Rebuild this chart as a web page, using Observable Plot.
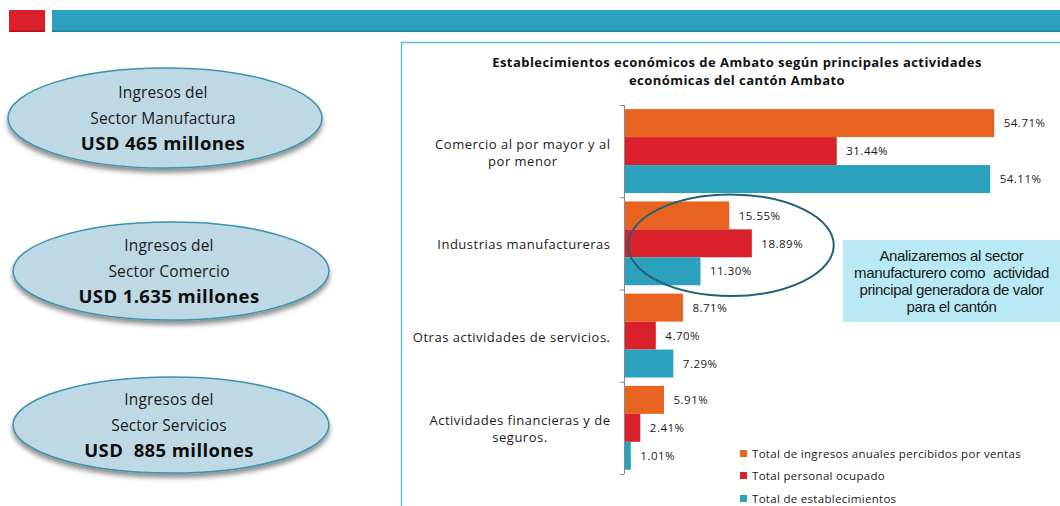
<!DOCTYPE html>
<html>
<head>
<meta charset="utf-8">
<script src="https://cdn.jsdelivr.net/npm/d3@7"></script>
<script src="https://cdn.jsdelivr.net/npm/@observablehq/plot@0.6"></script>
<style>
  body { margin: 0; background: #ffffff; }
  #page { position: relative; width: 1060px; height: 506px; overflow: hidden; font-family: "Open Sans", sans-serif; color: #1a1a1a; }
  #deco { position: absolute; left: 0; top: 0; }
  #chart { position: absolute; left: 402px; top: 42px; }
  #title { position: absolute; left: 387px; top: 53px; width: 700px; text-align: center; font-weight: 700; font-size: 13px; letter-spacing: 0.45px; line-height: 18px; color: #111; }
  #legend { position: absolute; left: 740px; top: 442px; font-size: 11.5px; letter-spacing: 0.3px; color: #1a1a1a; }
  #legend .row { display: flex; align-items: center; height: 22.5px; }
  #legend .sw { width: 7px; height: 7px; margin-right: 5px; }
  #note { position: absolute; left: 843px; top: 240px; width: 217px; height: 82px; background: #b8e9f4; display: flex; align-items: center; justify-content: center; text-align: center; font-family: "Liberation Sans", Arial, sans-serif; font-size: 15px; line-height: 17px; letter-spacing: -0.35px; color: #1a1a1a; }
  #chart text { letter-spacing: 0.5px; }
</style>
</head>
<body>
<div id="page">
  <svg id="deco" width="1060" height="506"></svg>
  <div id="title"></div>
  <div id="chart"></div>
  <div id="note"></div>
  <div id="legend"></div>
</div>
<script>
// ---------- data ----------
const categories = [
  "Comercio al por mayor y al por menor",
  "Industrias manufactureras",
  "Otras actividades de servicios.",
  "Actividades financieras y de seguros."
];
const categoryLines = [
  ["Comercio al por mayor y al", "por menor"],
  ["Industrias manufactureras"],
  ["Otras actividades de servicios."],
  ["Actividades financieras y de", "seguros."]
];
const series = [
  "Total de ingresos anuales percibidos por ventas",
  "Total personal ocupado",
  "Total de establecimientos"
];
const ingresos = [54.71, 15.55, 8.71, 5.91];
const personal = [31.44, 18.89, 4.70, 2.41];
const establecimientos = [54.11, 11.30, 7.29, 1.01];
const seriesColors = ["#e8631f", "#d9202b", "#2ba1be"];

const titleLines = [
  "Establecimientos económicos de Ambato según principales actividades",
  "económicas del cantón Ambato"
];
const noteLines = [
  "Analizaremos al sector",
  "manufacturero como\u00a0 actividad",
  "principal generadora de valor",
  "para el cantón"
];
const cardLine1 = ["Ingresos del", "Ingresos del", "Ingresos del"];
const cardLine2 = ["Sector Manufactura", "Sector Comercio", "Sector Servicios"];
const cardAmount = ["USD 465 millones", "USD 1.635 millones", "USD\u00a0 885 millones"];

// ---------- decorations (slide frame) ----------
const deco = d3.select("#deco");
const defs = deco.append("defs");
const f = defs.append("filter").attr("id", "shadow").attr("x", "-10%").attr("y", "-20%").attr("width", "120%").attr("height", "150%");
f.append("feDropShadow").attr("dx", 0).attr("dy", 4).attr("stdDeviation", 2.5).attr("flood-color", "#000").attr("flood-opacity", 0.45);

deco.append("rect").attr("x", 9).attr("y", 10).attr("width", 36).attr("height", 22).attr("fill", "#dc1f2b");
deco.append("rect").attr("x", 9).attr("y", 30.5).attr("width", 36).attr("height", 1.5).attr("fill", "#b0121c");
deco.append("rect").attr("x", 52).attr("y", 10).attr("width", 1008).attr("height", 22).attr("fill", "#2ba1be");
deco.append("rect").attr("x", 52).attr("y", 30.5).attr("width", 1008).attr("height", 1.5).attr("fill", "#19849e");
// chart panel border
deco.append("path").attr("d", "M401.5,506 V42.5 H1060").attr("fill", "none").attr("stroke", "#5bbfd6").attr("stroke-width", 1.5);

// sector cards
const cardGeom = [
  {cx: 165, cy: 118, rx: 157, ry: 50},
  {cx: 171, cy: 271, rx: 158, ry: 49},
  {cx: 171, cy: 425, rx: 158, ry: 48}
];
cardGeom.forEach((g, i) => {
  deco.append("ellipse").attr("cx", g.cx).attr("cy", g.cy).attr("rx", g.rx).attr("ry", g.ry)
    .attr("fill", "#bfd8e6").attr("stroke", "#3b93ae").attr("stroke-width", 1.5).attr("filter", "url(#shadow)");
  const t = deco.append("g").attr("text-anchor", "middle").attr("font-family", "Open Sans, sans-serif").attr("fill", "#1a1a1a");
  t.append("text").attr("x", g.cx - 2).attr("y", g.cy - 25).attr("dy", "0.35em").attr("font-size", 15.5).attr("letter-spacing", 0.15).text(cardLine1[i]);
  t.append("text").attr("x", g.cx - 2).attr("y", g.cy + 1).attr("dy", "0.35em").attr("font-size", 15.5).attr("letter-spacing", 0.15).text(cardLine2[i]);
  t.append("text").attr("x", g.cx - 2).attr("y", g.cy + 26).attr("dy", "0.35em").attr("font-size", 18.5).attr("letter-spacing", 0.4).attr("font-weight", 700).attr("fill", "#0d0d0d").text(cardAmount[i]);
});

// ---------- title, note, legend ----------
d3.select("#title").html(titleLines.join("<br>"));
d3.select("#note").html(noteLines.join("<br>"));
const lg = d3.select("#legend").selectAll(".row").data(series).join("div").attr("class", "row");
lg.append("div").attr("class", "sw").style("background", (d, i) => seriesColors[i]);
lg.append("span").text(d => d);

// ---------- chart ----------
const seriesValues = [ingresos, personal, establecimientos];
const rows = [];
categories.forEach((c, g) => {
  seriesValues.forEach((vals, s) => {
    rows.push({category: c, series: series[s], g, s, value: vals[g]});
  });
});
const pad = 0.045, bw = 0.303;
const catFont = 13, spacing = 0.5;
const ctx = document.createElement("canvas").getContext("2d");
ctx.font = `${catFont}px "Open Sans"`;
const labelMarks = categoryLines.map((lines, g) => {
  const w = d3.max(lines, l => ctx.measureText(l).width + l.length * spacing);
  return Plot.text([g], {
    x: 0, y: d => d + 0.5, text: () => lines.join("\n"),
    textAnchor: "middle", lineAnchor: "middle", dx: -(14 + w / 2),
    fontSize: catFont, lineHeight: 1.32, fill: "#1a1a1a"
  });
});

const chart = Plot.plot({
  width: 658, height: 464,
  marginLeft: 222, marginRight: 30, marginTop: 63, marginBottom: 32,
  style: {fontFamily: '"Open Sans", sans-serif', color: "#8a8a8a", background: "transparent", overflow: "visible"},
  x: {domain: [0, 60], axis: null},
  y: {domain: [0, categories.length], reverse: true, ticks: d3.range(categories.length + 1), tickSize: 4, tickFormat: () => "", label: null},
  color: {domain: series, range: seriesColors},
  marks: [
    Plot.rect(rows, {
      x1: 0, x2: "value",
      y1: d => d.g + pad + d.s * bw, y2: d => d.g + pad + (d.s + 1) * bw,
      fill: "series"
    }),
    Plot.text(rows, {
      x: "value", y: d => d.g + pad + (d.s + 0.5) * bw,
      text: d => d.value.toFixed(2) + "%",
      textAnchor: "start", dx: 9, fontSize: 11.5, fill: "#1a1a1a"
    }),
    Plot.ruleX([0], {stroke: "#8a8a8a"}),
    ...labelMarks
  ]
});
document.getElementById("chart").append(chart);

// highlight ellipse around the manufacturing group, placed with the chart's scales
const xs = chart.scale("x"), ys = chart.scale("y");
const svgSel = d3.select(chart.tagName.toLowerCase() === "svg" ? chart : chart.querySelector("svg"));
const gi = 1;
svgSel.append("ellipse")
  .attr("cx", xs.apply(15.8)).attr("cy", ys.apply(gi + 0.52))
  .attr("rx", xs.apply(15.2) - xs.apply(0)).attr("ry", (ys.apply(1) - ys.apply(0)) * 0.55)
  .attr("fill", "none").attr("stroke", "#1f6276").attr("stroke-width", 2);
</script>
</body>
</html>
